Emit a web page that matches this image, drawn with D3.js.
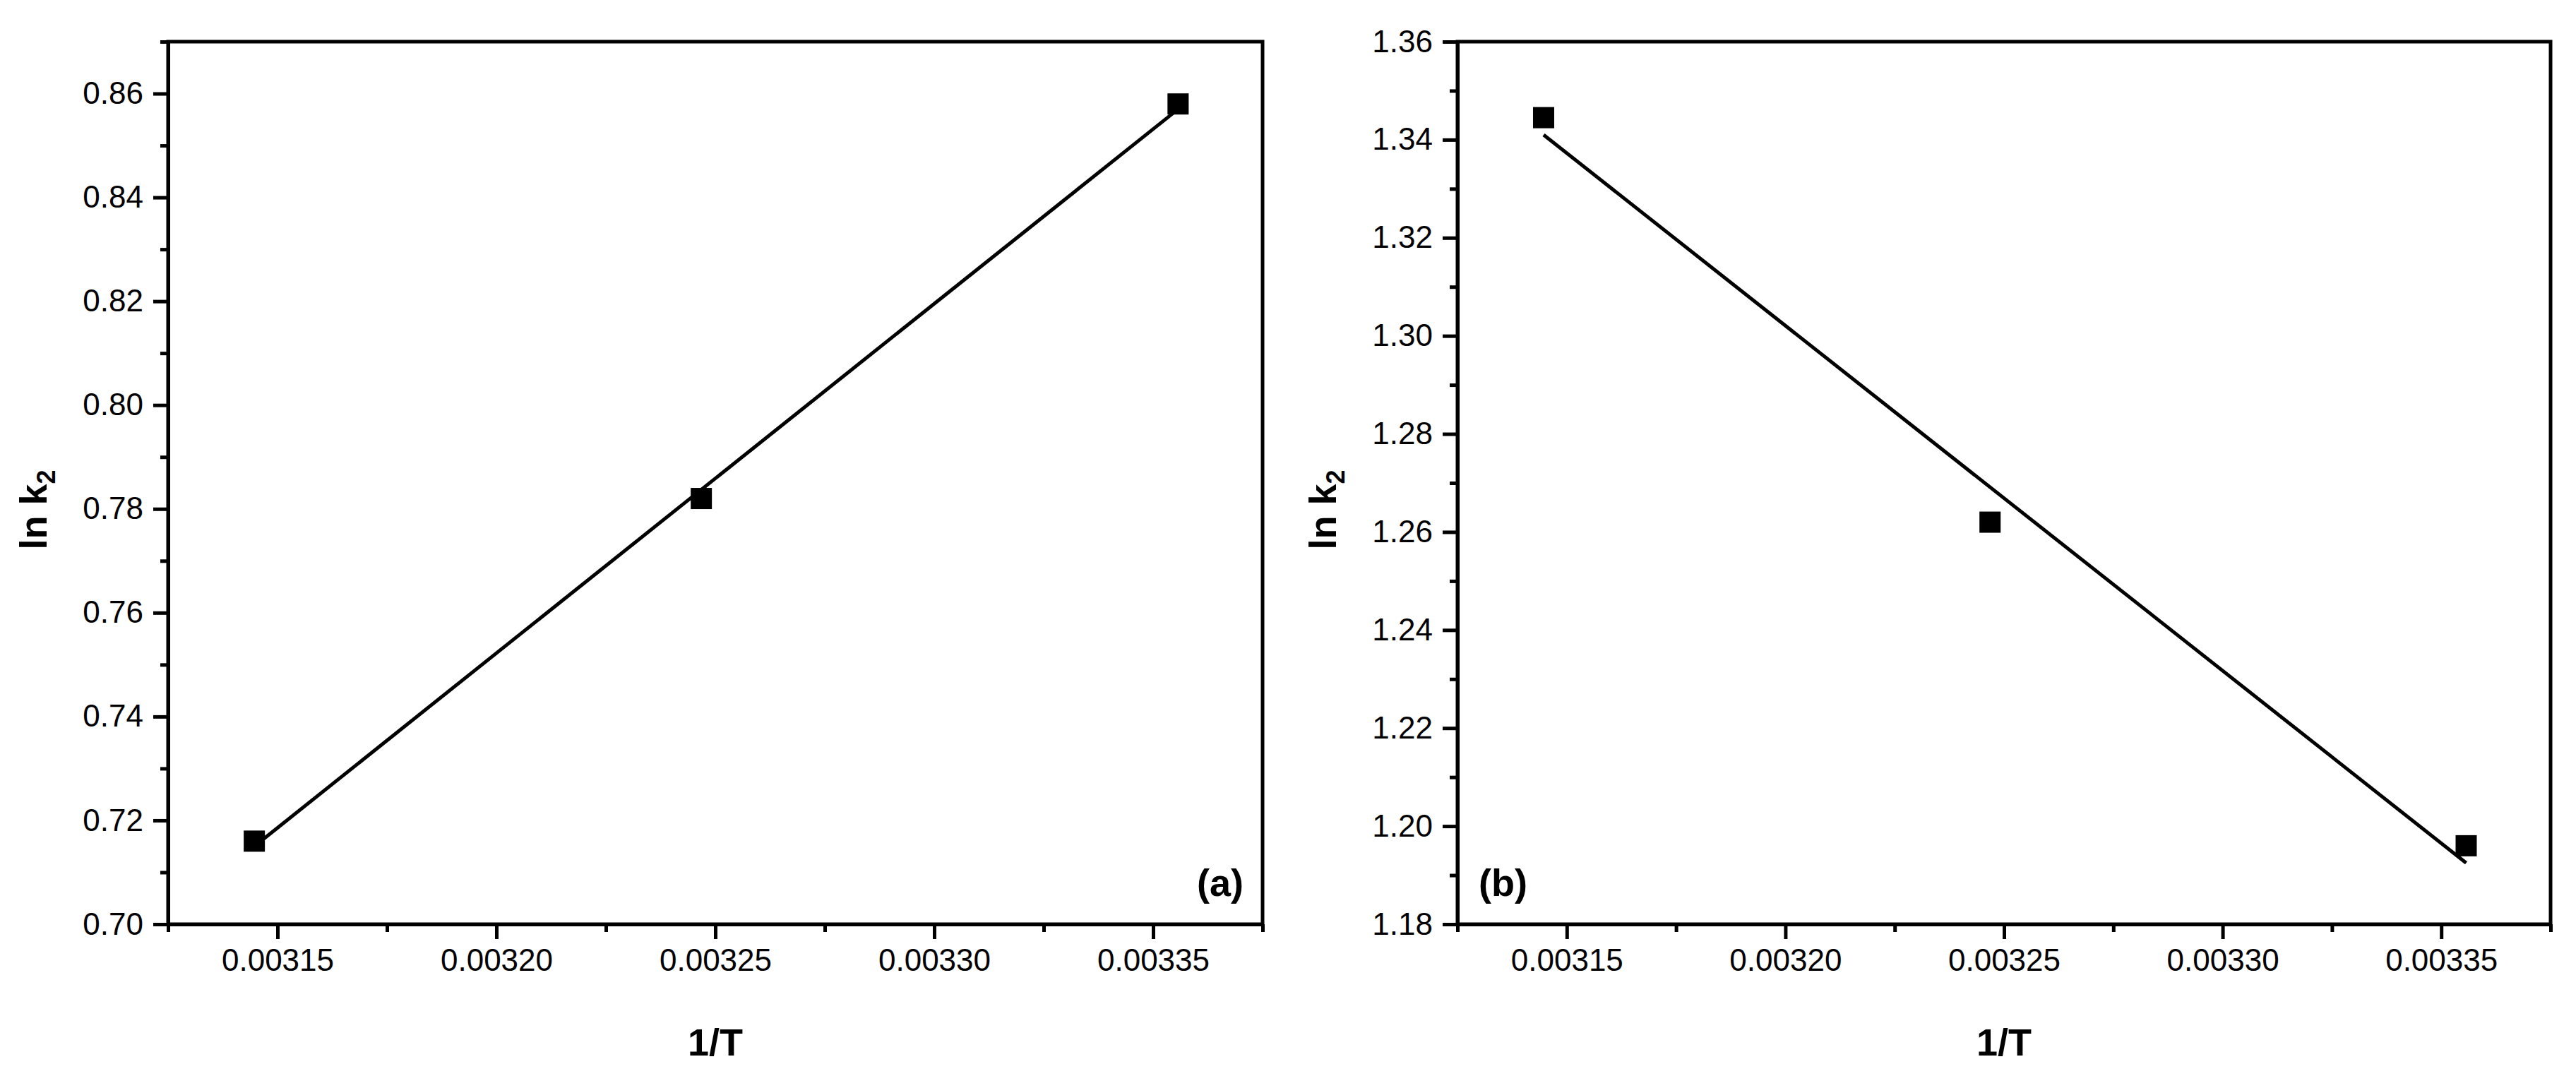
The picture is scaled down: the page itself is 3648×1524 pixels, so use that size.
<!DOCTYPE html>
<html>
<head>
<meta charset="utf-8">
<script src="https://cdn.jsdelivr.net/npm/d3@7"></script>
<style>
  body { margin: 0; background: #fff; }
  .axis text { font-family: "Liberation Sans", Arial, sans-serif; font-size: 44px; fill: #000; }
  .axis path, .axis line { stroke: #000; stroke-width: 5; }
  .title { font-family: "Liberation Sans", Arial, sans-serif; font-size: 54px; font-weight: bold; fill: #000; }
</style>
</head>
<body>
<script>
//Width and height
var w = 3648;
var h = 1524;

// 1/T for 318 K, 308 K, 298 K
var invT = [0.0031447, 0.0032468, 0.0033557];
var lnk2A = [0.716, 0.782, 0.858];
var lnk2B = [1.3445, 1.262, 1.196];

// fitted line ends
var fitX = [0.0031447, 0.0033557];
var fitA = [0.715, 0.857];
var fitB = [1.341, 1.1925];

var xTicks = [0.00315, 0.00320, 0.00325, 0.00330, 0.00335];
var xMinor = [0.003125, 0.003175, 0.003225, 0.003275, 0.003325, 0.003375];
var yTicksA = [0.70, 0.72, 0.74, 0.76, 0.78, 0.80, 0.82, 0.84, 0.86];
var yTicksB = [1.18, 1.20, 1.22, 1.24, 1.26, 1.28, 1.30, 1.32, 1.34, 1.36];

var panels = [
  { left: 238, right: 1788, ys: lnk2A, fit: fitA, yDomain: [0.70, 0.87], yTicks: yTicksA, tag: "(a)" },
  { left: 2064, right: 3612, ys: lnk2B, fit: fitB, yDomain: [1.18, 1.36], yTicks: yTicksB, tag: "(b)" }
];
var plotTop = 59, plotBottom = 1309;

//Create SVG element
var svg = d3.select("body")
  .append("svg")
  .attr("width", w)
  .attr("height", h);

panels.forEach(function(p) {
  var xScale = d3.scaleLinear()
    .domain([0.003125, 0.003375])
    .range([p.left, p.right]);

  var yScale = d3.scaleLinear()
    .domain(p.yDomain)
    .range([plotBottom, plotTop]);

  var yMinor = [];
  for (var i = 0; i < p.yTicks.length; i++) {
    var m = p.yTicks[i] + 0.01;
    if (m < p.yDomain[1] + 1e-9) yMinor.push(m);
  }

  // frame
  svg.append("rect")
    .attr("x", p.left)
    .attr("y", plotTop)
    .attr("width", p.right - p.left)
    .attr("height", plotBottom - plotTop)
    .attr("fill", "none")
    .attr("stroke", "#000")
    .attr("stroke-width", 5);

  // minor ticks
  svg.append("g")
    .attr("class", "axis")
    .attr("transform", "translate(0," + plotBottom + ")")
    .call(d3.axisBottom(xScale).tickValues(xMinor).tickSize(11).tickSizeOuter(0).tickFormat(""));

  svg.append("g")
    .attr("class", "axis")
    .attr("transform", "translate(" + p.left + ",0)")
    .call(d3.axisLeft(yScale).tickValues(yMinor).tickSize(11).tickSizeOuter(0).tickFormat(""));

  // major ticks
  svg.append("g")
    .attr("class", "axis")
    .attr("transform", "translate(0," + plotBottom + ")")
    .call(d3.axisBottom(xScale).tickValues(xTicks).tickSize(21).tickSizeOuter(0).tickPadding(14)
      .tickFormat(d3.format(".5f")));

  svg.append("g")
    .attr("class", "axis")
    .attr("transform", "translate(" + p.left + ",0)")
    .call(d3.axisLeft(yScale).tickValues(p.yTicks).tickSize(21).tickSizeOuter(0).tickPadding(14)
      .tickFormat(d3.format(".2f")));

  // fit line
  svg.append("line")
    .attr("x1", xScale(fitX[0]))
    .attr("y1", yScale(p.fit[0]))
    .attr("x2", xScale(fitX[1]))
    .attr("y2", yScale(p.fit[1]))
    .attr("stroke", "#000")
    .attr("stroke-width", 5);

  // points
  svg.selectAll(null)
    .data(invT)
    .enter()
    .append("rect")
    .attr("x", function(d) { return xScale(d) - 15; })
    .attr("y", function(d, i) { return yScale(p.ys[i]) - 15; })
    .attr("width", 30)
    .attr("height", 30)
    .attr("fill", "#000");

  // axis titles
  svg.append("text")
    .attr("class", "title")
    .attr("x", (p.left + p.right) / 2)
    .attr("y", 1495)
    .attr("text-anchor", "middle")
    .text("1/T");

  var yt = svg.append("text")
    .attr("class", "title")
    .attr("text-anchor", "middle")
    .attr("transform", "translate(" + (p.left - 172) + "," + 722 + ") rotate(-90)");
  yt.append("tspan").text("ln k");
  yt.append("tspan").attr("dy", 12).style("font-size", "36px").text("2");

  // panel tag
  if (p.tag == "(a)") {
    svg.append("text")
      .attr("class", "title")
      .attr("x", p.right - 27)
      .attr("y", 1269)
      .attr("text-anchor", "end")
      .text(p.tag);
  } else {
    svg.append("text")
      .attr("class", "title")
      .attr("x", p.left + 30)
      .attr("y", 1269)
      .text(p.tag);
  }
});
</script>
</body>
</html>
